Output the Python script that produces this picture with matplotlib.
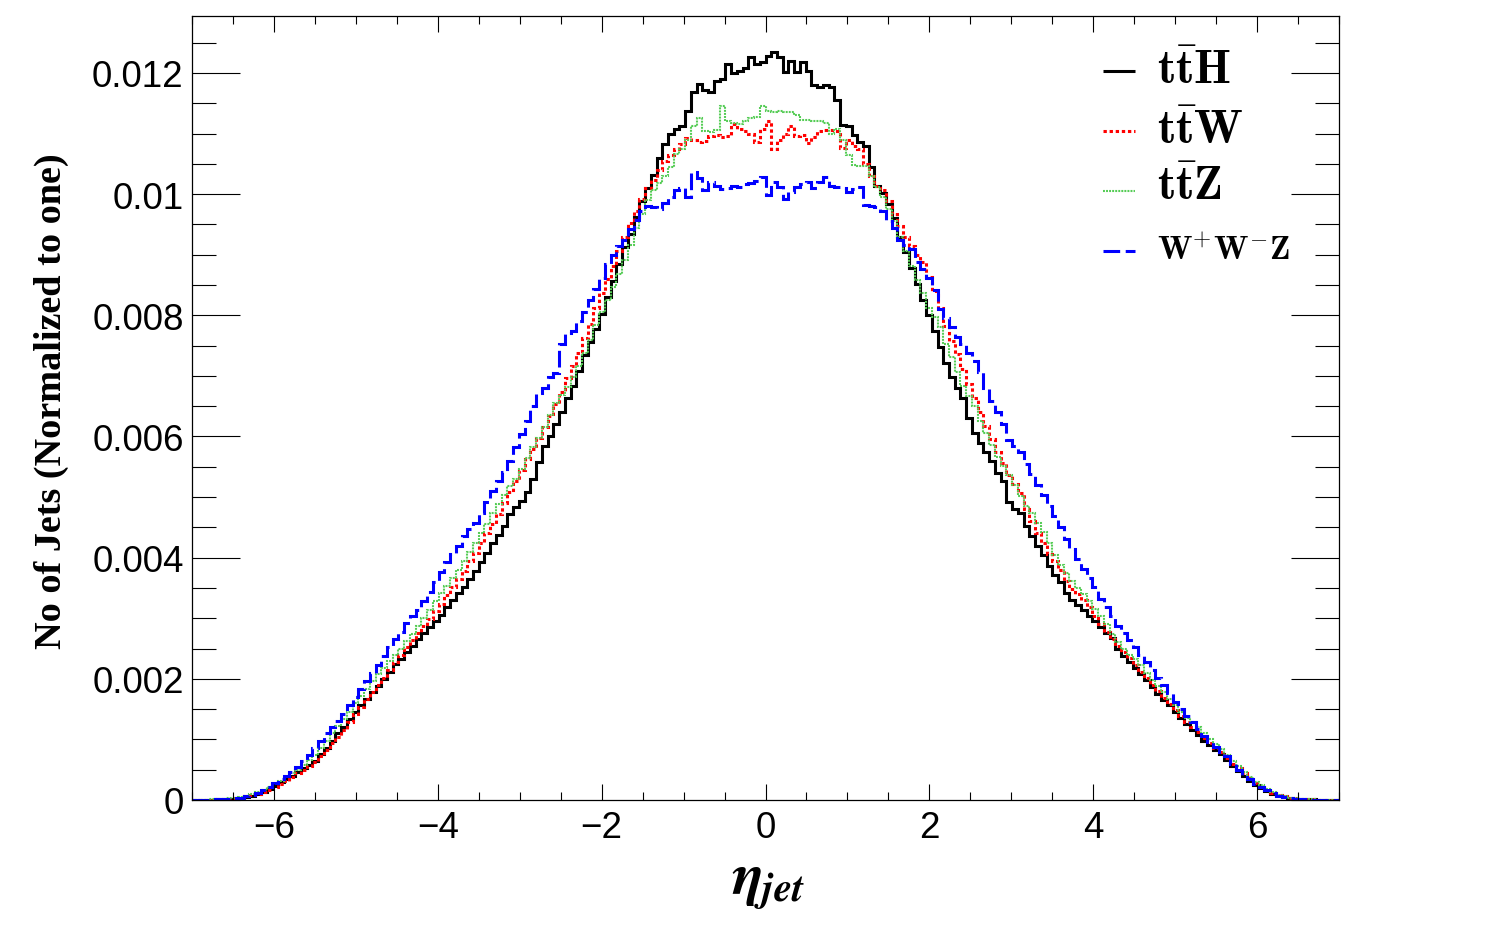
import numpy as np
import matplotlib
matplotlib.use("Agg")
import matplotlib.pyplot as plt
from matplotlib.lines import Line2D
from matplotlib.ticker import MultipleLocator, FuncFormatter

plt.rcParams['lines.scale_dashes'] = False

# ---------------- data (bin contents in units of 1e-5) ----------------
x_min, x_max, n_bins = -7.0, 7.0, 200

tth_e5 = [
    0, 0, 0, 0, 1, 1, 2, 2, 4, 5,
    7, 10, 13, 18, 23, 29, 34, 40, 46, 52,
    58, 65, 76, 86, 98, 110, 120, 133, 146, 157,
    167, 178, 188, 199, 212, 224, 233, 244, 254, 266,
    276, 286, 296, 306, 318, 330, 342, 352, 364, 378,
    392, 408, 424, 438, 452, 472, 484, 494, 508, 530,
    558, 584, 600, 620, 640, 664, 684, 708, 734, 756,
    778, 802, 830, 856, 884, 912, 935, 962, 988, 1010,
    1032, 1060, 1082, 1100, 1108, 1112, 1138, 1168, 1182, 1172,
    1168, 1186, 1190, 1215, 1200, 1204, 1208, 1226, 1214, 1218,
    1228, 1234, 1226, 1202, 1220, 1202, 1218, 1204, 1180, 1176,
    1180, 1176, 1156, 1114, 1112, 1098, 1086, 1080, 1044, 1014,
    1002, 984, 960, 930, 904, 878, 852, 826, 800, 774,
    748, 722, 698, 680, 664, 630, 606, 590, 574, 560,
    540, 526, 492, 480, 474, 452, 436, 420, 404, 386,
    372, 360, 342, 330, 322, 314, 304, 296, 286, 276,
    268, 250, 238, 228, 218, 208, 198, 186, 175, 165,
    156, 146, 136, 126, 116, 108, 98, 90, 82, 76,
    66, 56, 48, 40, 32, 25, 20, 15, 10, 7,
    5, 3, 2, 2, 1, 1, 0, 0, 0, 0,
]

ttw_e5 = [
    0, 0, 0, 0, 1, 1, 2, 3, 4, 6,
    8, 10, 13, 17, 21, 26, 32, 38, 44, 50,
    56, 63, 72, 82, 94, 104, 116, 128, 142, 154,
    166, 178, 190, 202, 214, 228, 240, 252, 264, 276,
    288, 298, 312, 324, 338, 352, 364, 378, 394, 408,
    424, 440, 456, 472, 490, 508, 526, 544, 562, 580,
    598, 616, 634, 654, 674, 696, 716, 738, 762, 786,
    812, 836, 860, 882, 906, 930, 952, 972, 992, 1010,
    1024, 1040, 1054, 1064, 1074, 1082, 1092, 1090, 1086, 1088,
    1096, 1098, 1094, 1096, 1116, 1108, 1104, 1100, 1086, 1108,
    1120, 1074, 1090, 1100, 1112, 1096, 1098, 1084, 1094, 1104,
    1106, 1106, 1104, 1076, 1090, 1080, 1074, 1050, 1030, 1014,
    1006, 988, 968, 948, 930, 914, 900, 888, 864, 840,
    812, 782, 758, 736, 712, 686, 664, 640, 618, 596,
    574, 556, 536, 522, 506, 480, 460, 440, 424, 406,
    394, 380, 362, 348, 340, 330, 318, 304, 290, 278,
    266, 254, 244, 234, 222, 212, 202, 190, 180, 168,
    158, 148, 138, 128, 120, 112, 102, 94, 86, 80,
    70, 60, 52, 44, 36, 28, 22, 16, 12, 8,
    6, 4, 3, 2, 1, 1, 0, 0, 0, 0,
]

ttz_e5 = [
    0, 0, 0, 1, 1, 2, 3, 4, 5, 7,
    10, 13, 17, 21, 26, 32, 38, 44, 50, 58,
    66, 74, 86, 98, 110, 122, 134, 146, 160, 172,
    184, 196, 208, 218, 230, 240, 250, 262, 274, 288,
    300, 314, 328, 342, 354, 366, 380, 394, 410, 424,
    440, 456, 474, 488, 504, 518, 530, 546, 564, 582,
    598, 616, 636, 656, 668, 682, 698, 716, 738, 760,
    784, 806, 826, 846, 868, 892, 916, 944, 968, 990,
    1006, 1018, 1030, 1044, 1066, 1074, 1090, 1112, 1126, 1104,
    1102, 1106, 1146, 1120, 1118, 1116, 1120, 1126, 1128, 1146,
    1138, 1136, 1138, 1136, 1136, 1130, 1122, 1122, 1120, 1120,
    1118, 1100, 1108, 1090, 1064, 1048, 1046, 1046, 1030, 1012,
    996, 976, 956, 930, 906, 882, 858, 836, 812, 798,
    780, 752, 732, 706, 684, 666, 650, 626, 606, 586,
    566, 552, 536, 520, 502, 486, 474, 458, 442, 424,
    404, 388, 374, 362, 350, 340, 328, 316, 304, 290,
    274, 260, 250, 240, 232, 222, 210, 198, 188, 178,
    166, 156, 146, 136, 128, 120, 110, 100, 92, 84,
    74, 64, 56, 46, 38, 30, 24, 18, 13, 9,
    6, 4, 3, 2, 1, 1, 0, 0, 0, 0,
]

wwz_e5 = [
    0, 0, 0, 0, 1, 1, 2, 3, 4, 6,
    8, 12, 17, 22, 28, 34, 40, 46, 54, 64,
    74, 86, 98, 110, 120, 130, 142, 156, 170, 184,
    196, 210, 222, 238, 252, 266, 278, 292, 304, 314,
    328, 344, 360, 376, 392, 406, 420, 436, 448, 458,
    474, 492, 510, 526, 542, 560, 582, 604, 626, 650,
    672, 680, 698, 704, 752, 770, 774, 790, 806, 826,
    844, 862, 884, 900, 914, 924, 942, 958, 972, 980,
    978, 976, 986, 996, 1006, 1010, 996, 1036, 1026, 1006,
    1020, 1014, 1008, 1010, 1014, 1012, 1016, 1018, 1022, 1028,
    998, 1020, 1012, 992, 1004, 1012, 1016, 1020, 1010, 1020,
    1028, 1014, 1012, 1010, 1004, 1008, 1012, 982, 980, 978,
    972, 956, 944, 924, 916, 910, 888, 876, 862, 842,
    810, 796, 780, 764, 752, 738, 724, 706, 680, 658,
    640, 620, 594, 584, 574, 554, 538, 520, 504, 486,
    468, 450, 430, 414, 398, 382, 366, 352, 332, 318,
    304, 288, 276, 264, 252, 240, 228, 214, 202, 190,
    176, 162, 150, 138, 128, 118, 106, 96, 88, 80,
    72, 60, 50, 42, 34, 26, 22, 16, 11, 7,
    5, 3, 2, 1, 1, 0, 0, 0, 0, 0,
]

labels = [r'$\mathbf{t\bar{t}H}$', r'$\mathbf{t\bar{t}W}$',
          r'$\mathbf{t\bar{t}Z}$', r'$\mathbf{W^{+}W^{-}Z}$']
y_ticks = [0, 0.002, 0.004, 0.006, 0.008, 0.010, 0.012]
x_ticks = [-6, -4, -2, 0, 2, 4, 6]

series = [tth_e5, ttw_e5, ttz_e5, wwz_e5]
for s in series:
    assert len(s) == n_bins

# ---------------- styling ----------------
styles = [
    dict(color='black', linewidth=2.2, linestyle='-'),
    dict(color='#ff0000', linewidth=2.2, linestyle=(0, (2.4, 2.0))),
    dict(color='#55cc55', linewidth=1.5, linestyle=(0, (1.4, 0.8))),
    dict(color='#0000ff', linewidth=2.2, linestyle=(0, (12, 4))),
]

W, H = 1506, 929
fig = plt.figure(figsize=(W / 100, H / 100), dpi=100)
ax = fig.add_axes([192 / W, 1 - 801 / H, (1339 - 192) / W, (801 - 17) / H])

edges = x_min + (x_max - x_min) / n_bins * np.arange(n_bins + 1)
for vals, st in zip(series, styles):
    ax.stairs(np.asarray(vals) * 1e-5, edges, baseline=None, fill=False,
              joinstyle='miter', capstyle='butt', **st)

ax.set_xlim(x_min, x_max)
ax.set_ylim(0, 0.01294)

ax.set_yticks(y_ticks)
ax.yaxis.set_major_formatter(FuncFormatter(lambda v, p: '0' if v == 0 else f'{v:g}'))
ax.yaxis.set_minor_locator(MultipleLocator(0.0005))
ax.set_xticks(x_ticks)
ax.xaxis.set_minor_locator(MultipleLocator(0.5))

for lab in ax.get_xticklabels() + ax.get_yticklabels():
    lab.set_fontfamily('Liberation Sans')

ax.tick_params(axis='y', which='major', direction='in', length=34.5, width=0.8,
               left=True, right=True, labelsize=26.5, pad=6)
ax.tick_params(axis='y', which='minor', direction='in', length=17.3, width=0.8,
               left=True, right=True)
ax.tick_params(axis='x', which='major', direction='in', length=11.5, width=0.8,
               top=True, bottom=True, labelsize=26.5, pad=7)
ax.tick_params(axis='x', which='minor', direction='in', length=5.8, width=0.8,
               top=True, bottom=True)
for sp in ax.spines.values():
    sp.set_linewidth(0.9)

# axis titles
fig.text(51 / W, 1 - 401 / H, 'No of Jets (Normalized to one)', rotation=90,
         ha='center', va='center', fontsize=27.5, fontweight='bold',
         fontfamily='Liberation Serif')
fig.text(768 / W, 1 - 884 / H, r'$\mathbfit{\eta}_{\mathbfit{jet}}$',
         ha='center', va='center', fontsize=42, math_fontfamily='stix')

# legend (drawn in figure pixel positions)
leg_y_line = [72, 132, 192, 252]
leg_y_base = [84, 144, 200, 260]
leg_sizes = [34, 34, 34, 24]
for lab, st, yl, yb, fs in zip(labels, styles, leg_y_line, leg_y_base, leg_sizes):
    fig.add_artist(Line2D([1103 / W, 1135 / W], [1 - yl / H, 1 - yl / H],
                          transform=fig.transFigure, solid_capstyle='butt',
                          dash_capstyle='butt', **st))
    fig.text(1157 / W, 1 - yb / H, lab, ha='left', va='baseline', fontsize=fs,
             math_fontfamily='cm')

fig.savefig('out.png', dpi=100)
